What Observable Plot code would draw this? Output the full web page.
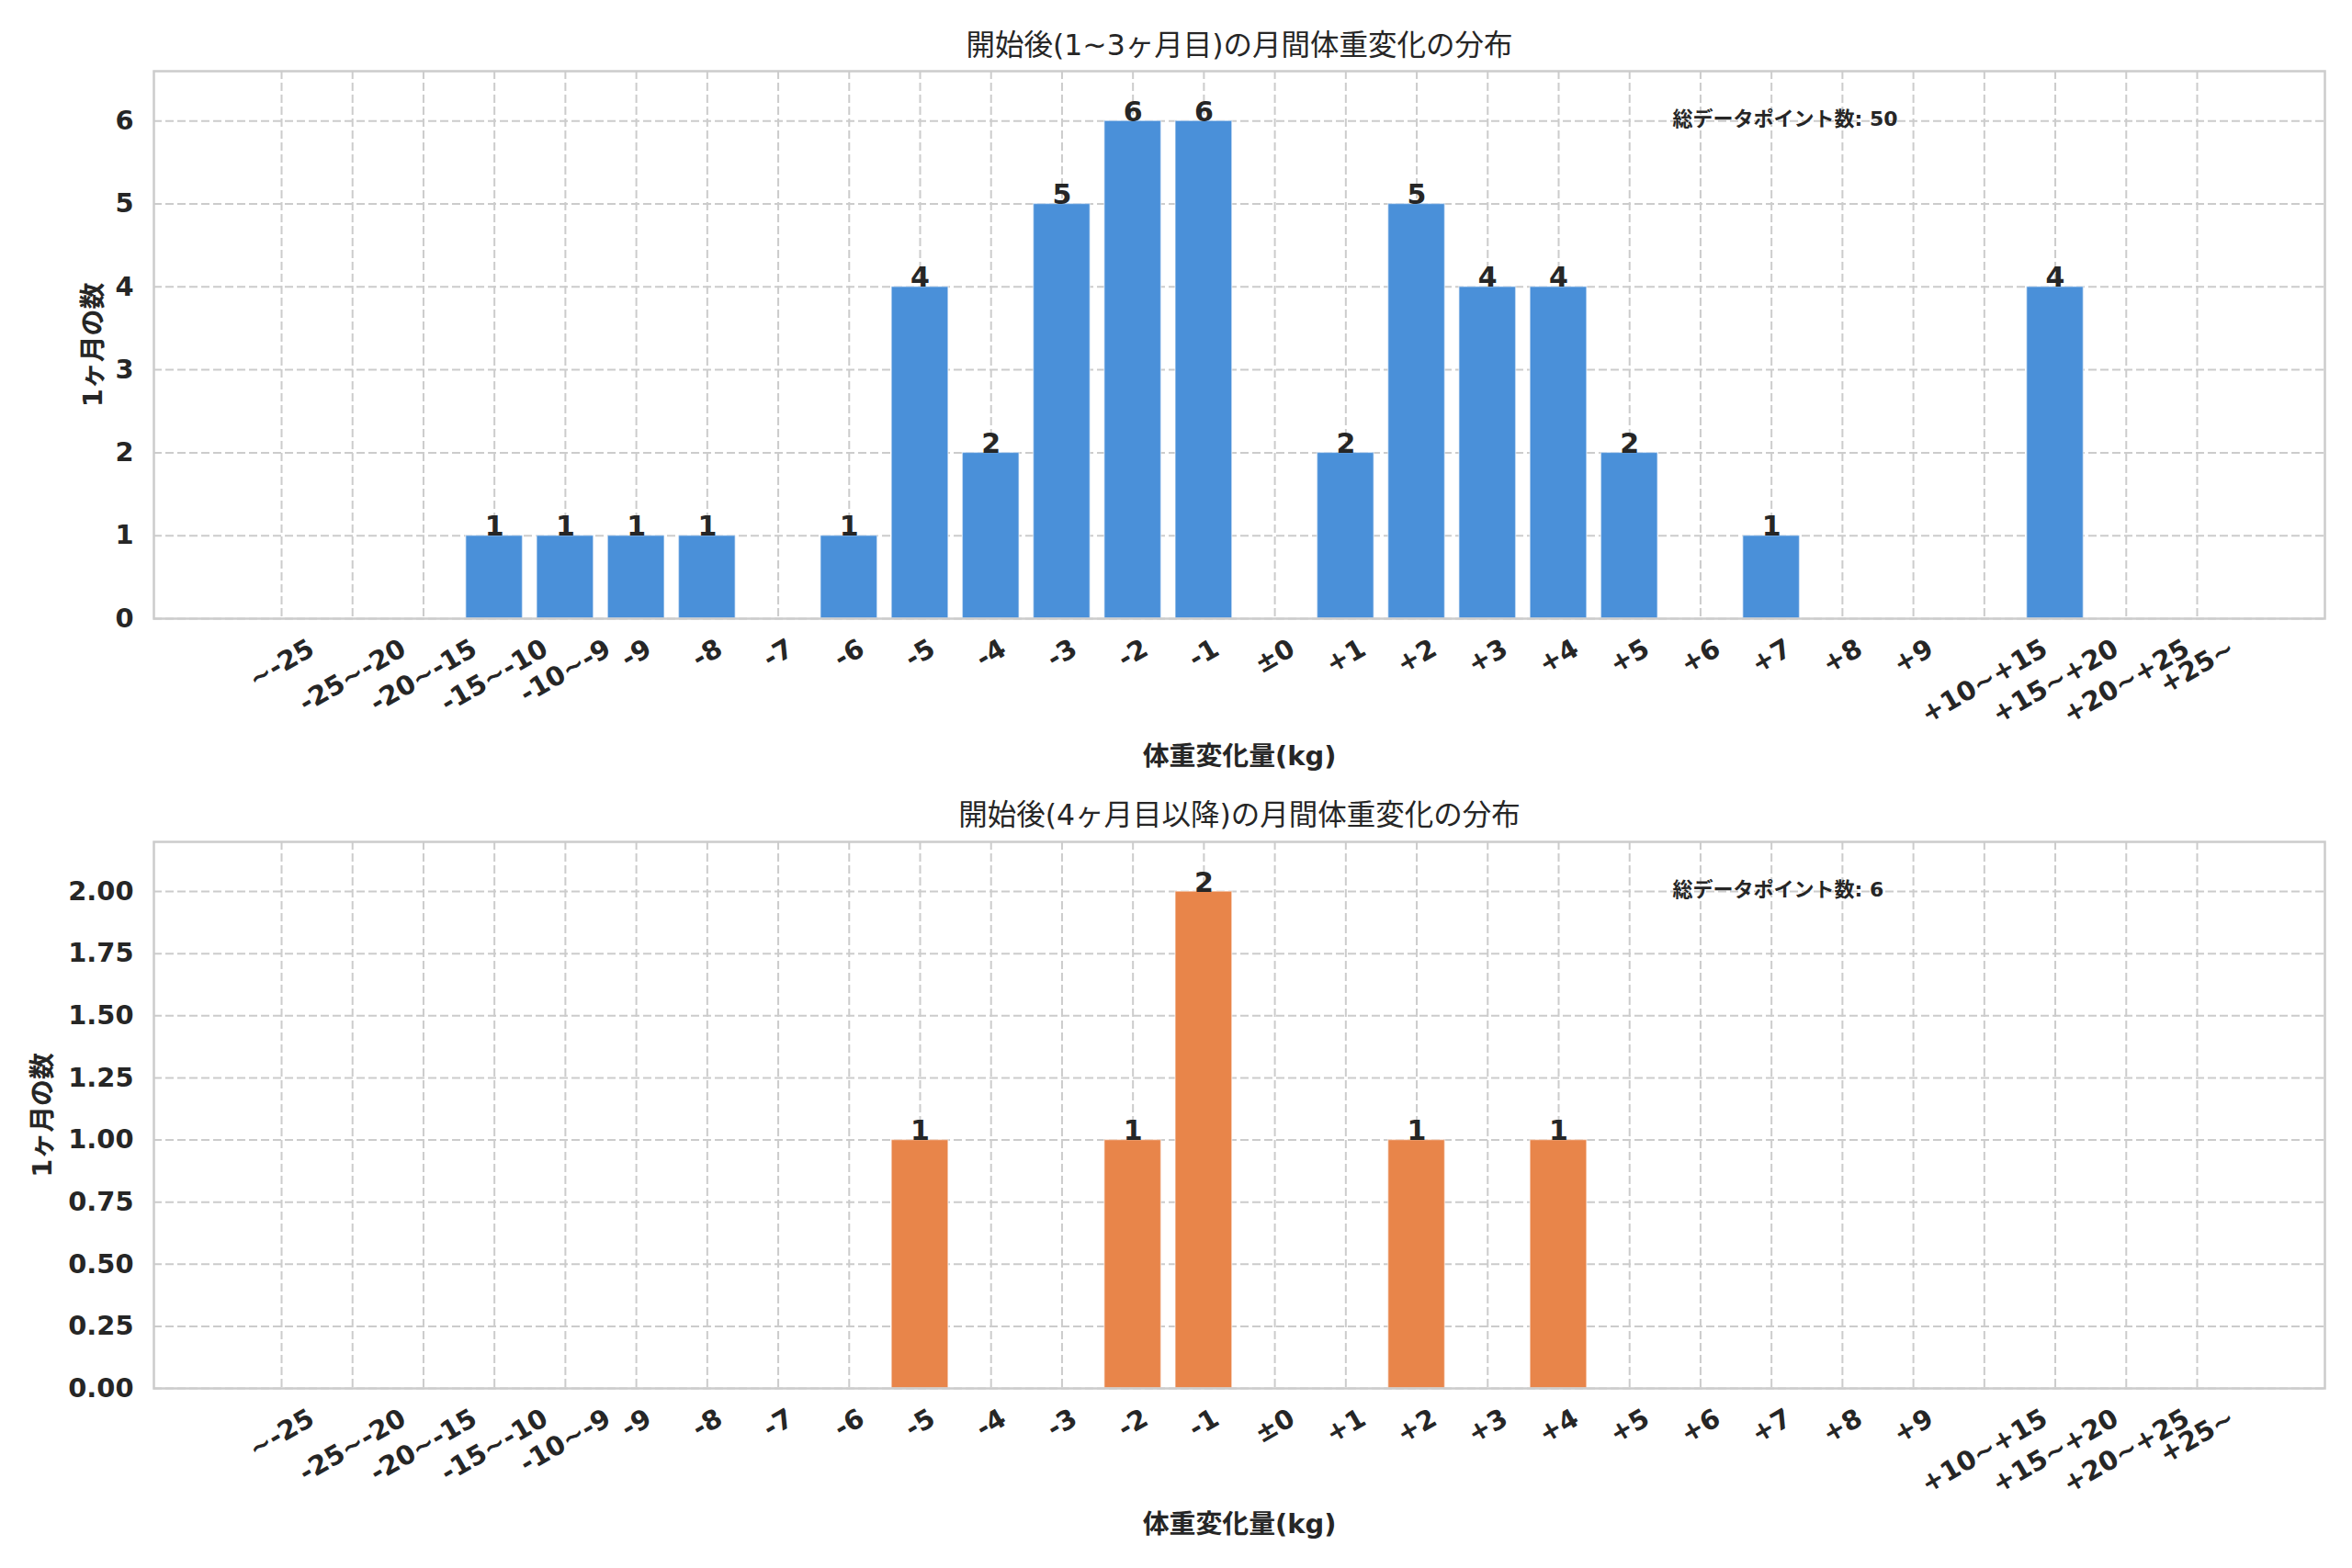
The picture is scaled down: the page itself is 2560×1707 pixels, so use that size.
<!DOCTYPE html>
<html><head><meta charset="utf-8">
<script src="https://cdn.jsdelivr.net/npm/d3@7"></script>
<script src="https://cdn.jsdelivr.net/npm/@observablehq/plot@0.6"></script>
<style>
html,body{margin:0;padding:0;background:#fff;}
#chart{width:2560px;}
#chart svg{display:block;}
</style></head><body><div id="chart"></div>
<script>
// ---- data ----
const categories = ["~-25","-25~-20","-20~-15","-15~-10","-10~-9","-9","-8","-7","-6","-5","-4","-3","-2","-1","±0","+1","+2","+3","+4","+5","+6","+7","+8","+9","+10~+15","+15~+20","+20~+25","+25~"];
const earlyCounts = [0,0,0,1,1,1,1,0,1,4,2,5,6,6,0,2,5,4,4,2,0,1,0,0,0,4,0,0];
const lateCounts  = [0,0,0,0,0,0,0,0,0,1,0,0,1,2,0,0,1,0,1,0,0,0,0,0,0,0,0,0];
const earlyYTicks = [0,1,2,3,4,5,6];
const lateYTicks = [0,0.25,0.5,0.75,1,1.25,1.5,1.75,2];
const earlyTitle = "開始後(1~3ヶ月目)の月間体重変化の分布";
const lateTitle = "開始後(4ヶ月目以降)の月間体重変化の分布";
const xLabel = "体重変化量(kg)";
const yLabel = "1ヶ月の数";
const noteLabel = "総データポイント数";
const earlyTotal = 50;
const lateTotal = 6;

// ---- style ----
const FONT = "'DejaVu Sans','Noto Sans CJK JP',sans-serif";
const TICK_PX = 28.9;
const INK = "#262626";
const ctx = document.createElement("canvas").getContext("2d");
ctx.font = `bold ${TICK_PX}px 'DejaVu Sans'`;

function panel({counts, color, yMax, yTicks, yFormat, title, total, height, mt, mb, ylabDx, titleDy, xlabDy}) {
  const data = categories.map((c, i) => ({i, c, v: counts[i]}));
  const tickIdx = categories.map((c, i) => i);
  const labelMarks = categories.map((c, i) => {
    const w = ctx.measureText(c).width;
    const h = TICK_PX * 1.164;
    const dy = 15.6 + (w * 0.5 + h * 0.866) / 2;
    return Plot.text([i], {x: d => d, text: () => c, frameAnchor: "bottom", dy, rotate: -30,
      textAnchor: "middle", lineAnchor: "middle", fontSize: TICK_PX, fontWeight: "bold", fill: INK});
  });
  const grid = {stroke: "#cccccc", strokeOpacity: 1, strokeWidth: 2, strokeDasharray: "9,4"};
  return Plot.plot({
    width: 2560, height, marginTop: mt, marginBottom: mb, marginLeft: 167, marginRight: 30,
    style: {fontFamily: FONT, background: "#fff", color: INK},
    x: {domain: [-1.8, 28.8], axis: null},
    y: {domain: [0, yMax], axis: null},
    marks: [
      Plot.gridX(tickIdx, grid),
      Plot.gridY(yTicks, grid),
      Plot.rect(data, {x1: d => d.i - 0.4, x2: d => d.i + 0.4, y1: d => 0, y2: d => d.v,
        fill: color, stroke: "#ffffff", strokeOpacity: 0.5, strokeWidth: 1.5}),
      Plot.frame({stroke: "#cccccc", strokeWidth: 2.5}),
      Plot.axisY(yTicks, {tickSize: 0, tickPadding: 22, tickFormat: yFormat, fontSize: TICK_PX,
        fontWeight: "bold", fill: INK, label: null}),
      ...labelMarks,
      Plot.text(data.filter(d => d.v > 0), {x: "i", y: "v", text: d => String(d.v), lineAnchor: "bottom",
        dy: 0, fontSize: 30, fontWeight: "bold", fill: INK}),
      Plot.text([title], {text: d => d, frameAnchor: "top", dy: titleDy, lineAnchor: "middle",
        fontSize: 31.5, fill: INK}),
      Plot.text([xLabel], {text: d => d, frameAnchor: "bottom", dy: xlabDy, lineAnchor: "middle",
        fontSize: TICK_PX, fontWeight: "bold", fill: INK}),
      Plot.text([yLabel], {text: d => d, frameAnchor: "left", dx: ylabDx, rotate: -90, lineAnchor: "middle",
        textAnchor: "middle", fontSize: TICK_PX, fontWeight: "bold", fill: INK}),
      Plot.text([`${noteLabel}: ${total}`], {text: d => d, frameAnchor: "top-left", dx: 1653, dy: 52,
        textAnchor: "start", lineAnchor: "middle", fontSize: 22, fontWeight: "bold", fill: INK})
    ]
  });
}

const chart = document.getElementById("chart");
chart.append(panel({counts: earlyCounts, color: "#4a90d9", yMax: 6.6, yTicks: earlyYTicks, yFormat: d3.format("d"),
  title: earlyTitle, total: earlyTotal, height: 853, mt: 77, mb: 180, ylabDx: -66, titleDy: -28, xlabDy: 150}));
chart.append(panel({counts: lateCounts, color: "#e8854a", yMax: 2.2, yTicks: lateYTicks, yFormat: d3.format(".2f"),
  title: lateTitle, total: lateTotal, height: 854, mt: 63, mb: 196, ylabDx: -121, titleDy: -29, xlabDy: 148}));
</script></body></html>
